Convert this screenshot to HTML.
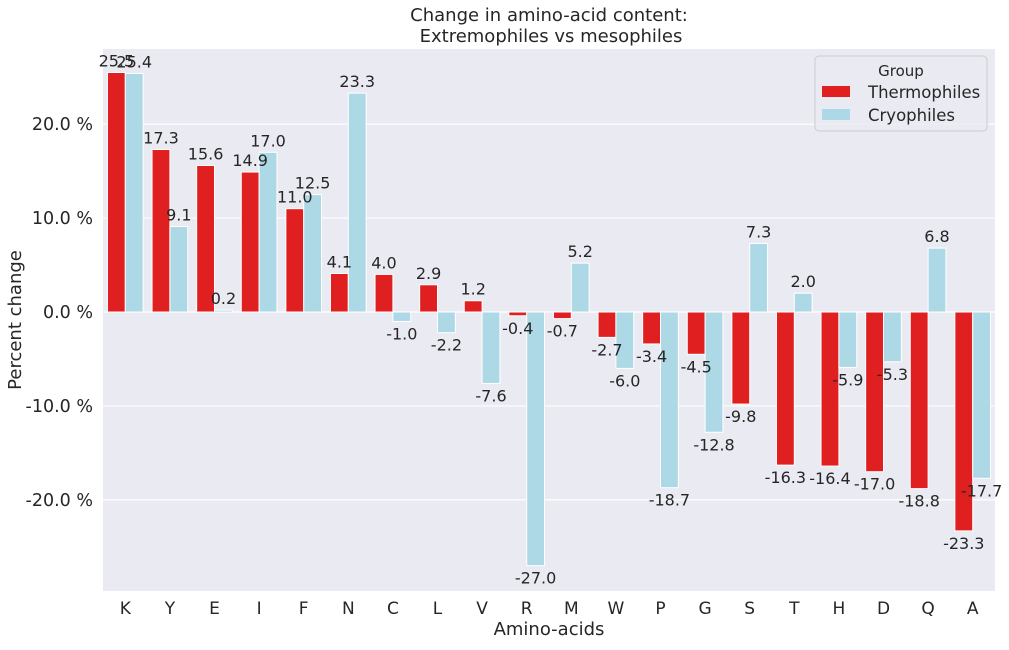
<!DOCTYPE html>
<html><head><meta charset="utf-8"><style>
body{margin:0;background:#fff;font-family:"Liberation Sans","DejaVu Sans",sans-serif;}
svg text{font-family:"DejaVu Sans","Liberation Sans",sans-serif;fill:#262626;}
</style></head><body>
<svg id="c" width="1009" height="645" xmlns="http://www.w3.org/2000/svg"></svg>
<script>
const categories=["K","Y","E","I","F","N","C","L","V","R","M","W","P","G","S","T","H","D","Q","A"];
const thermo=[25.5,17.3,15.6,14.9,11.0,4.1,4.0,2.9,1.2,-0.4,-0.7,-2.7,-3.4,-4.5,-9.8,-16.3,-16.4,-17.0,-18.8,-23.3];
const cryo=[25.4,9.1,0.2,17.0,12.5,23.3,-1.0,-2.2,-7.6,-27.0,5.2,-6.0,-18.7,-12.8,7.3,2.0,-5.9,-5.3,6.8,-17.7];
const yTicks=[-20,-10,0,10,20];
const NS="http://www.w3.org/2000/svg";
const svg=document.getElementById('c');
const L=103,R=995,T=49,B=591,ymin=-29.7,ymax=28.0;
const y=v=>T+(ymax-v)/(ymax-ymin)*(B-T);
const bw=(R-L)/categories.length;
const xc=i=>L+bw*(i+0.5);
function el(tag,attrs,parent){const e=document.createElementNS(NS,tag);for(const k in attrs)e.setAttribute(k,attrs[k]);(parent||svg).appendChild(e);return e;}
const bg=el('rect',{x:L,y:T,width:R-L,height:B-T,fill:'#eaeaf2'});


yTicks.forEach(t=>{
  const g=el('line',{x1:L,x2:R,y1:y(t),y2:y(t),stroke:'#fff','stroke-width':1.2});
  
  
  const tx=el('text',{x:93,y:y(t)+6,'text-anchor':'end','font-size':17.5});
  tx.textContent=t.toFixed(1)+' %';
  
  
});
const series=[[thermo,'#e02020',-1,'thermophiles'],[cryo,'#add8e6',0,'cryophiles']];
categories.forEach((c,i)=>{
  const lb=el('text',{x:xc(i),y:614,'text-anchor':'middle','font-size':17});
  lb.textContent=c;
  
  
});
const w=bw*0.4;
series.forEach(([vals,col,off,nm])=>{
  vals.forEach((v,i)=>{
    const x0=xc(i)+off*w;
    const top=Math.min(y(v),y(0)),h=Math.abs(y(v)-y(0));
    const r=el('rect',{x:x0,y:top,width:w,height:h,fill:col,stroke:'#fff','stroke-width':1});
    
    
  });
});
series.forEach(([vals,col,off,nm])=>{
  vals.forEach((v,i)=>{
    const x0=xc(i)+off*w;
    const t=el('text',{x:x0+w/2,y:v>=0?y(v)-6:y(v)+18,'text-anchor':'middle','font-size':16});
    t.textContent=v.toFixed(1);
    
    
  });
});
const t1=el('text',{x:549,y:21,'text-anchor':'middle','font-size':18});t1.textContent='Change in amino-acid content:';


const t2=el('text',{x:551,y:42,'text-anchor':'middle','font-size':18});t2.textContent='Extremophiles vs mesophiles';


const xt=el('text',{x:549,y:635,'text-anchor':'middle','font-size':18});xt.textContent='Amino-acids';


const yt=el('text',{x:21,y:320,'text-anchor':'middle','font-size':18,transform:'rotate(-90 21 320)'});yt.textContent='Percent change';


const lg=el('g',{});


el('rect',{x:815,y:56,width:172,height:75,rx:4,fill:'#eaeaf2',stroke:'#cccccc','fill-opacity':0.8},lg);
const lt=el('text',{x:901,y:76,'text-anchor':'middle','font-size':15},lg);lt.textContent='Group';
[['Thermophiles','#e02020'],['Cryophiles','#add8e6']].forEach(([n,c],k)=>{
  const e=el('g',{},lg);
  
  
  el('rect',{x:822,y:86+k*23,width:28,height:11,fill:c},e);
  const tx=el('text',{x:868,y:98+k*23,'font-size':16.5},e);tx.textContent=n;
});
</script>
</body></html>
